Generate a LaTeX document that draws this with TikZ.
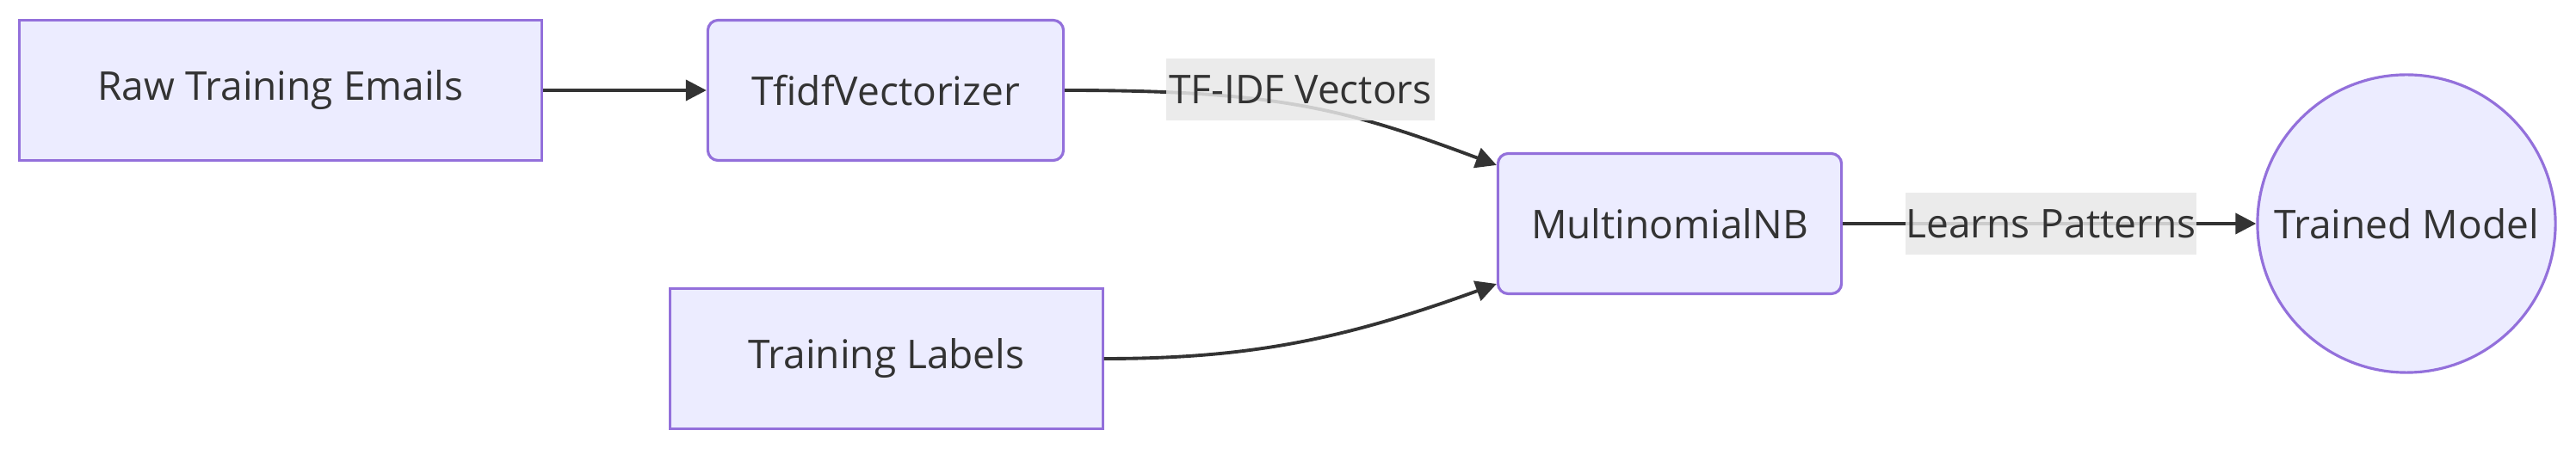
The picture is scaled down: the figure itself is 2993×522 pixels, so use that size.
\documentclass[tikz,border=0pt]{standalone}
\usepackage{fontspec}
\setmainfont{Open Sans}
\usetikzlibrary{arrows.meta}
\definecolor{boxfill}{HTML}{ECECFF}
\definecolor{boxline}{HTML}{9370DB}
\definecolor{ink}{HTML}{333333}
\definecolor{tagfill}{HTML}{E8E8E8}

\begin{document}
\begin{tikzpicture}[x=0.01cm,y=-0.01cm,
  font=\fontsize{13.1}{16}\selectfont, text=ink,
  box/.style={draw=boxline,fill=boxfill,line width=0.9pt,minimum height=1.63cm,inner sep=0pt},
  rbox/.style={box,rounded corners=0.12cm},
  tag/.style={fill=tagfill,fill opacity=0.85,text opacity=1,minimum height=0.71cm,minimum width=#1,inner xsep=0pt},
  arr/.style={draw=ink,line width=1.1pt,-{Triangle[length=0.24cm,width=0.24cm]}}]
\useasboundingbox (0,0) rectangle (2993,522);

\node[box,minimum width=6.07cm] (emails) at (326,105) {Raw Training Emails};
\node[rbox,minimum width=4.13cm] (tfidf) at (1029,105) {TfidfVectorizer};
\node[box,minimum width=5.02cm] (labels) at (1030,417) {Training Labels};
\node[rbox,minimum width=3.99cm] (mnb) at (1940,260) {MultinomialNB};
\node[draw=boxline,fill=boxfill,line width=0.9pt,circle,minimum size=3.46cm,inner sep=0pt] (model) at (2796,260) {Trained Model};

\draw[arr] (emails) -- (tfidf);
\draw[arr] (tfidf.east) .. controls (1480,105) and (1560,125) .. ([yshift=0.68cm]mnb.west);
\draw[arr] (labels.east) .. controls (1450,417) and (1560,395) .. ([yshift=-0.70cm]mnb.west);
\draw[arr] (mnb) -- (model);

\node[tag=3.11cm] (vectag) at (1511,104) {TF-IDF Vectors};
\node[tag=3.33cm] (learntag) at (2383,260) {Learns Patterns};
\end{tikzpicture}
\end{document}
